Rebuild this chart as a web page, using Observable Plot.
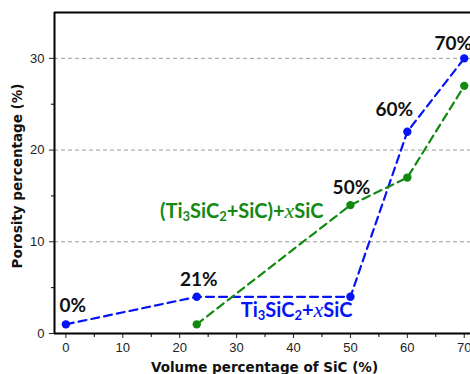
<!DOCTYPE html>
<html><head><meta charset="utf-8">
<script src="https://cdn.jsdelivr.net/npm/d3@7"></script>
<script src="https://cdn.jsdelivr.net/npm/@observablehq/plot@0.6"></script>
<style>body{margin:0;background:#fff;overflow:hidden}</style>
</head><body><div id="chart"></div>
<script>
// ---- data ----
const sicVolumeA = [0, 23, 50, 60, 70];
const porosityA = [1, 4, 4, 22, 30];          // Ti3SiC2 + xSiC
const sicVolumeB = [23, 50, 60, 70];
const porosityB = [1, 14, 17, 27];            // (Ti3SiC2+SiC) + xSiC
const pointLabels = ["0%", "21%", "50%", "60%", "70%"];
const seriesNames = ["Ti3SiC2+xSiC", "(Ti3SiC2+SiC)+xSiC"];
const xMajorTicks = [0, 10, 20, 30, 40, 50, 60, 70];
const xMinorTicks = [5, 15, 25, 35, 45, 55, 65];
const yMajorTicks = [0, 10, 20, 30];
const yMinorTicks = [5, 15, 25];
const gridValues = [10, 20, 30];
const xTitle = "Volume percentage of SiC (%)";
const yTitle = "Porosity percentage (%)";

// ---- derived tables ----
const seriesA = sicVolumeA.map((x, i) => ({x, y: porosityA[i]}));
const seriesB = sicVolumeB.map((x, i) => ({x, y: porosityB[i]}));
// which point each percentage label sits beside
const labelAnchors = [seriesA[0], seriesA[1], seriesB[1], seriesA[3], seriesA[4]];
const labelOffsets = [[7, -18], [2, -16.5], [1, -17], [-13, -21.5], [-11, -14.5]];
const labelData = pointLabels.map((t, i) => ({text: t, x: labelAnchors[i].x, y: labelAnchors[i].y, dx: labelOffsets[i][0], dy: labelOffsets[i][1]}));

const BLUE = "#0514f5", GREEN = "#128a12";

const marks = [
  Plot.ruleY(gridValues, {stroke: "#9a9a9a", strokeWidth: 1, strokeDasharray: "4,3"}),
  Plot.axisX({ticks: xMajorTicks, tickSize: 5, tickPadding: 4, label: null, fontSize: 13, color: "#222"}),
  Plot.axisX({ticks: xMinorTicks, tickSize: 4, tickFormat: () => "", label: null}),
  Plot.axisY({ticks: yMajorTicks, tickSize: 5, tickPadding: 5, label: null, fontSize: 13, color: "#222"}),
  Plot.axisY({ticks: yMinorTicks, tickSize: 3, tickFormat: () => "", label: null}),
  Plot.ruleY([0], {stroke: "#000", strokeWidth: 2}),
  Plot.ruleY([35], {stroke: "#000", strokeWidth: 2}),
  Plot.ruleX([-2], {stroke: "#000", strokeWidth: 2}),
  Plot.line(seriesA, {x: "x", y: "y", stroke: BLUE, strokeWidth: 2.2, strokeDasharray: "8,5"}),
  Plot.line(seriesB, {x: "x", y: "y", stroke: GREEN, strokeWidth: 2.2, strokeDasharray: "8,5"}),
  Plot.dot(seriesA, {x: "x", y: "y", fill: BLUE, r: 4.2}),
  Plot.dot(seriesB, {x: "x", y: "y", fill: GREEN, r: 4.2}),
];
labelData.forEach(d => {
  marks.push(Plot.text([d], {x: "x", y: "y", text: "text", dx: d.dx, dy: d.dy, fill: "#111", fontSize: 19, fontWeight: "bold", fontFamily: "Lato"}));
});
marks.push(
  Plot.text([seriesA[2]], {x: "x", y: "y", text: () => seriesNames[0], dx: 2, dy: 14, textAnchor: "end", fill: BLUE, fontSize: 20, fontWeight: "bold", fontFamily: "Lato", className: "series-label"}),
  Plot.text([seriesB[1]], {x: "x", y: "y", text: () => seriesNames[1], dx: -27, dy: 6, textAnchor: "end", fill: GREEN, fontSize: 20, fontWeight: "bold", fontFamily: "Lato", className: "series-label"}),
  Plot.text([xTitle], {frameAnchor: "bottom", dy: 34, dx: 2, textAnchor: "middle", lineAnchor: "middle", fontSize: 13.5, fontWeight: "bold", fontFamily: "DejaVu Sans", fill: "#111"}),
  Plot.text([yTitle], {frameAnchor: "left", rotate: -90, dx: -37, dy: 3, textAnchor: "middle", lineAnchor: "middle", fontSize: 13.5, fontWeight: "bold", fontFamily: "DejaVu Sans", fill: "#111"})
);

const chart = Plot.plot({
  width: 470, height: 374,
  marginLeft: 54, marginRight: 0, marginTop: 12, marginBottom: 41,
  x: {domain: [-2, 71.1]},
  y: {domain: [0, 35]},
  style: {fontFamily: "Liberation Sans, Arial, sans-serif", fontSize: "13px", background: "#fff", overflow: "visible"},
  marks
});
document.getElementById("chart").appendChild(chart);

// chemical formula formatting: digits subscript, x italic serif
d3.select(chart).selectAll(".series-label text").each(function() {
  const t = d3.select(this);
  const s = this.textContent;
  t.text(null);
  let shifted = false;
  for (const ch of s) {
    const sp = t.append("tspan").text(ch);
    if (/[0-9]/.test(ch)) {
      sp.attr("font-size", 13).attr("dy", shifted ? null : 3);
      shifted = true;
    } else {
      if (shifted) { sp.attr("dy", -3); shifted = false; }
      if (ch === "x") sp.attr("font-family", "Liberation Serif").attr("font-style", "italic").attr("font-weight", "normal").attr("font-size", 22);
    }
  }
});
</script>
</body></html>
